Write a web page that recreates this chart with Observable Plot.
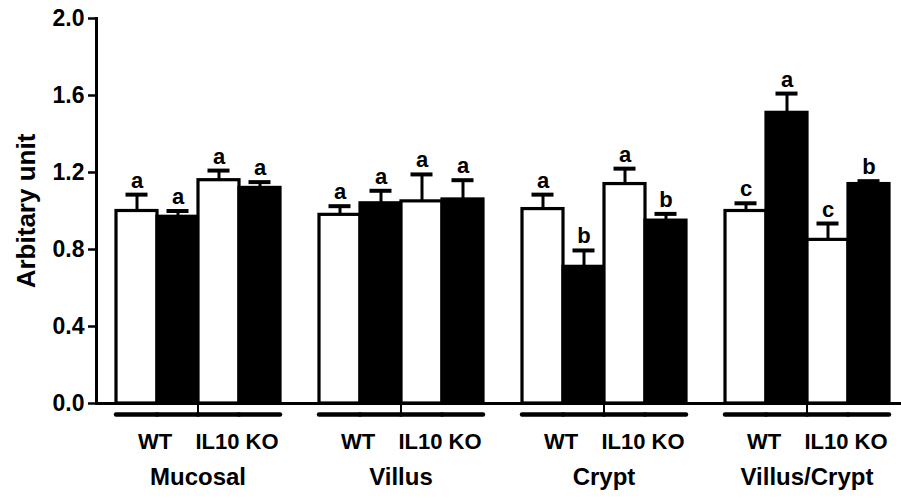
<!DOCTYPE html>
<html>
<head>
<meta charset="utf-8">
<script src="https://cdn.jsdelivr.net/npm/d3@7"></script>
<script src="https://cdn.jsdelivr.net/npm/@observablehq/plot@0.6"></script>
<style>
  html, body { margin: 0; padding: 0; background: #fff; overflow: hidden; }
  #chart svg { display: block; }
</style>
</head>
<body>
<div id="chart"></div>
<script>
// ---- data ----
const groups = ["Mucosal", "Villus", "Crypt", "Villus/Crypt"];
const genotypes = ["WT", "IL10 KO"];
const treatments = ["Control", "Treatment"]; // open bar, filled bar
const yTicks = [0.0, 0.4, 0.8, 1.2, 1.6, 2.0];

// bar order inside each group: WT-Control, WT-Treatment, IL10 KO-Control, IL10 KO-Treatment
const meanMucosal = [1.00, 0.97, 1.16, 1.12];
const meanVillus  = [0.98, 1.04, 1.05, 1.06];
const meanCrypt   = [1.01, 0.71, 1.14, 0.95];
const meanVC      = [1.00, 1.51, 0.85, 1.14];

const semMucosal = [0.085, 0.03, 0.05, 0.03];
const semVillus  = [0.045, 0.065, 0.14, 0.10];
const semCrypt   = [0.075, 0.085, 0.08, 0.035];
const semVC      = [0.04, 0.10, 0.085, 0.015];

const lettersMucosal = ["a", "a", "a", "a"];
const lettersVillus  = ["a", "a", "a", "a"];
const lettersCrypt   = ["a", "b", "a", "b"];
const lettersVC      = ["c", "a", "c", "b"];

// ---- build table ----
const means = [meanMucosal, meanVillus, meanCrypt, meanVC];
const sems = [semMucosal, semVillus, semCrypt, semVC];
const letters = [lettersMucosal, lettersVillus, lettersCrypt, lettersVC];
const barKeys = [];
genotypes.forEach(g => treatments.forEach(t => barKeys.push(g + "|" + t)));

const rows = [];
groups.forEach((grp, gi) => {
  barKeys.forEach((key, bi) => {
    const [genotype, treatment] = key.split("|");
    rows.push({
      group: grp, bar: key, genotype, treatment,
      mean: means[gi][bi], sem: sems[gi][bi], letter: letters[gi][bi]
    });
  });
});

const font = "'Liberation Sans', Arial, Helvetica, sans-serif";

const chart = Plot.plot({
  width: 901,
  height: 498,
  marginLeft: 95,
  marginRight: -7,
  marginTop: 18,
  marginBottom: 95,
  style: { fontFamily: font, fontWeight: "bold", color: "black", background: "white", overflow: "hidden" },
  fx: { domain: groups, padding: 0 },
  x: { domain: barKeys, paddingInner: 0, paddingOuter: 0.475 },
  y: { domain: [0, 2], ticks: yTicks },
  marks: [
    // x-axis baseline (adjacent facets make it continuous)
    Plot.ruleY([0], { stroke: "black", strokeWidth: 3 }),
    Plot.barY(rows, {
      fx: "group", x: "bar", y: "mean",
      fill: d => d.treatment === treatments[0] ? "white" : "black",
      stroke: "black", strokeWidth: 3.2, insetLeft: 0, insetRight: 0
    }),
    Plot.ruleX(rows, {
      fx: "group", x: "bar", y1: "mean", y2: d => d.mean + d.sem,
      stroke: "black", strokeWidth: 3
    }),
    Plot.tickY(rows, {
      fx: "group", x: "bar", y: d => d.mean + d.sem,
      stroke: "black", strokeWidth: 4, insetLeft: 9.5, insetRight: 9.5
    }),
    Plot.text(rows, {
      fx: "group", x: "bar", y: d => d.mean + d.sem, text: "letter",
      dy: -7, lineAnchor: "bottom", fontSize: 22, fontWeight: "bold", fill: "black"
    }),
    // group underline (one segment per bar, joined)
    Plot.tickY(rows, {
      fx: "group", x: "bar", y: () => 0, dy: 11,
      stroke: "black", strokeWidth: 4.5, strokeLinecap: "round"
    }),
    // y-axis line
    Plot.frame({ anchor: "left", facetAnchor: "left", stroke: "black", strokeWidth: 3 }),
    Plot.axisY({
      ticks: yTicks, tickFormat: d3.format(".1f"), tickSize: 8, tickPadding: 4,
      strokeWidth: 2.5, fontSize: 23, fontWeight: "bold",
      label: "Arbitary unit", labelAnchor: "center", labelArrow: "none", labelOffset: 80
    }),
    Plot.axisX({
      tickSize: 0, tickPadding: 30, dx: 18, fontSize: 22, fontWeight: "bold", label: null,
      tickFormat: d => {
        const [g, t] = d.split("|");
        return t === treatments[0] ? g : "";
      }
    }),
    Plot.axisFx({
      anchor: "bottom", tickSize: 10, tickPadding: 54, fontSize: 24, fontWeight: "bold",
      strokeWidth: 2, label: null
    })
  ]
});

// larger axis title, as in the reference
d3.select(chart).selectAll('g[aria-label="y-axis label"]').attr("font-size", 26);
d3.select(chart).selectAll('g[aria-label="y-axis label"] text').attr("font-size", 26);

document.getElementById("chart").appendChild(chart);
</script>
</body>
</html>
